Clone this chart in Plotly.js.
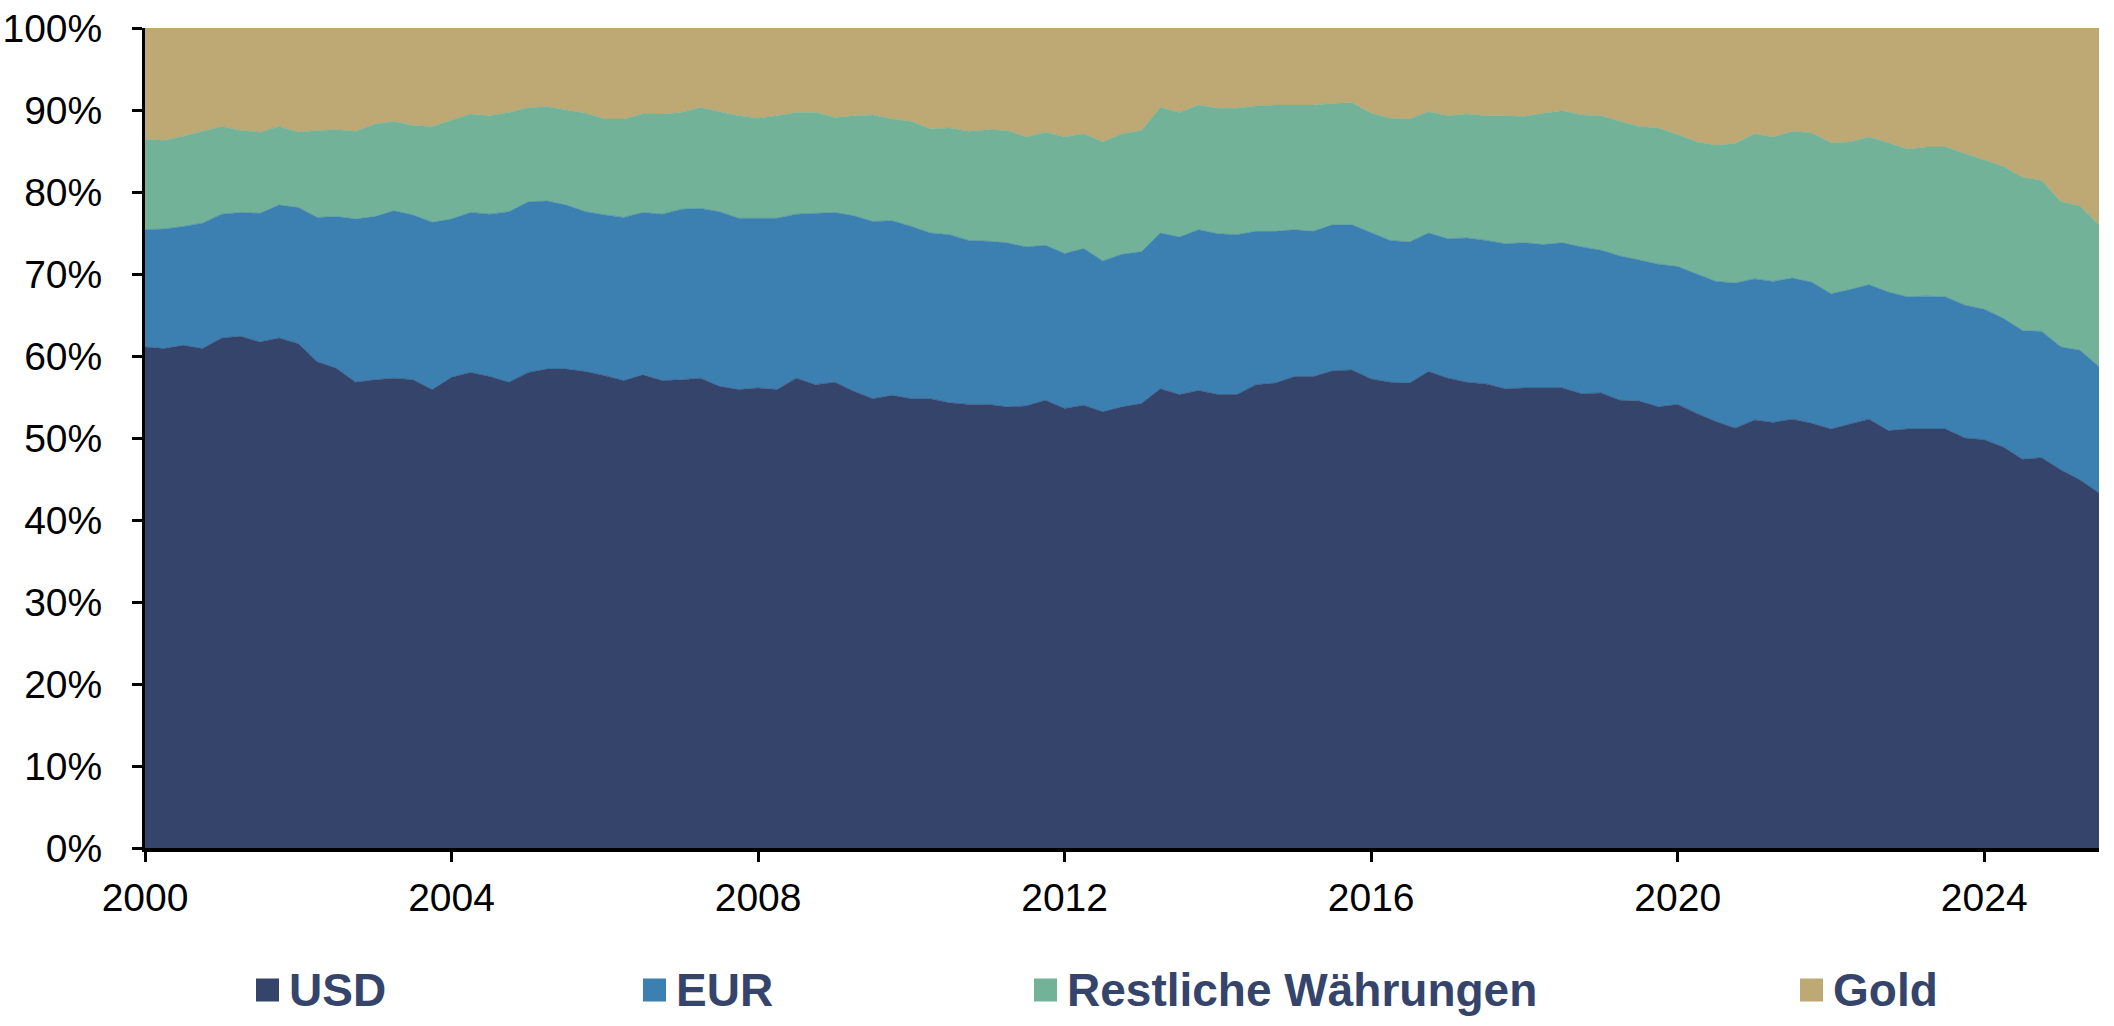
<!DOCTYPE html>
<html>
<head>
<meta charset="utf-8">
<script src="https://cdn.plot.ly/plotly-3.0.1.min.js"></script>
<style>
  html, body { margin: 0; padding: 0; background: #ffffff; }
  #chart { width: 2114px; height: 1026px; }
</style>
</head>
<body>
<div id="chart"></div>
<script>
// Composition of global reserves, quarterly shares in percent (Q1 2000 - Q3 2025)
const startYear = 2000;

const usdShare = [
  61.1, 60.9, 61.3, 60.9, 62.2, 62.4, 61.7, 62.2, 61.5, 59.3,
  58.5, 56.8, 57.1, 57.3, 57.1, 55.9, 57.4, 58.0, 57.5, 56.8,
  58.0, 58.4, 58.4, 58.1, 57.6, 57.0, 57.7, 57.0, 57.1, 57.3,
  56.3, 55.9, 56.1, 55.9, 57.3, 56.5, 56.8, 55.7, 54.8, 55.2,
  54.8, 54.8, 54.3, 54.1, 54.1, 53.8, 53.9, 54.6, 53.6, 54.0,
  53.2, 53.8, 54.2, 56.0, 55.3, 55.8, 55.3, 55.3, 56.5, 56.7,
  57.5, 57.5, 58.2, 58.3, 57.2, 56.8, 56.7, 58.1, 57.3, 56.8,
  56.6, 56.0, 56.1, 56.1, 56.1, 55.4, 55.5, 54.6, 54.5, 53.8,
  54.1, 53.0, 52.0, 51.2, 52.2, 51.9, 52.3, 51.8, 51.1, 51.7,
  52.3, 50.9, 51.1, 51.1, 51.1, 50.0, 49.8, 48.9, 47.4, 47.6,
  46.1, 44.9, 43.3
];

const eurShare = [
  14.3, 14.6, 14.5, 15.3, 15.1, 15.1, 15.7, 16.2, 16.6, 17.6,
  18.5, 19.9, 19.9, 20.4, 20.1, 20.4, 19.3, 19.5, 19.8, 20.8,
  20.8, 20.5, 20.0, 19.5, 19.6, 19.9, 19.8, 20.3, 20.8, 20.7,
  21.3, 20.9, 20.7, 20.9, 20.0, 20.9, 20.7, 21.4, 21.6, 21.3,
  21.0, 20.2, 20.5, 20.0, 19.9, 20.0, 19.4, 18.9, 18.9, 19.1,
  18.4, 18.6, 18.5, 19.0, 19.2, 19.6, 19.6, 19.5, 18.7, 18.5,
  17.9, 17.7, 17.8, 17.7, 17.8, 17.3, 17.2, 16.9, 17.0, 17.6,
  17.5, 17.7, 17.7, 17.5, 17.7, 17.9, 17.4, 17.6, 17.2, 17.4,
  16.8, 17.0, 17.1, 17.7, 17.2, 17.2, 17.2, 17.2, 16.5, 16.4,
  16.4, 16.9, 16.1, 16.2, 16.1, 16.2, 15.9, 15.7, 15.7, 15.4,
  15.0, 15.8, 15.4
];

const otherShare = [
  11.0, 10.8, 11.0, 11.2, 10.7, 10.0, 9.9, 9.6, 9.2, 10.6,
  10.6, 10.7, 11.3, 10.9, 10.9, 11.7, 12.1, 12.0, 12.0, 12.1,
  11.5, 11.5, 11.6, 12.0, 11.7, 12.0, 12.0, 12.2, 11.8, 12.3,
  12.2, 12.5, 12.2, 12.5, 12.4, 12.3, 11.6, 12.2, 13.0, 12.4,
  12.8, 12.7, 13.0, 13.3, 13.6, 13.7, 13.4, 13.8, 14.2, 14.0,
  14.5, 14.7, 14.8, 15.3, 15.2, 15.2, 15.3, 15.4, 15.3, 15.4,
  15.2, 15.4, 14.8, 14.9, 14.6, 14.9, 15.0, 14.8, 15.0, 15.1,
  15.2, 15.6, 15.4, 16.0, 16.1, 16.1, 16.4, 16.4, 16.3, 16.6,
  16.1, 16.1, 16.6, 17.0, 17.7, 17.6, 17.9, 18.2, 18.4, 18.0,
  18.0, 18.2, 18.0, 18.2, 18.3, 18.5, 18.2, 18.5, 18.7, 18.4,
  17.7, 17.6, 17.3
];

const goldShare = [
  13.6, 13.7, 13.2, 12.6, 12.0, 12.5, 12.7, 12.0, 12.7, 12.5,
  12.4, 12.6, 11.7, 11.4, 11.9, 12.0, 11.2, 10.5, 10.7, 10.3,
  9.7, 9.6, 10.0, 10.4, 11.1, 11.1, 10.5, 10.5, 10.3, 9.7,
  10.2, 10.7, 11.0, 10.7, 10.3, 10.3, 10.9, 10.7, 10.6, 11.1,
  11.4, 12.3, 12.2, 12.6, 12.4, 12.5, 13.3, 12.7, 13.3, 12.9,
  13.9, 12.9, 12.5, 9.7, 10.3, 9.4, 9.8, 9.8, 9.5, 9.4,
  9.4, 9.4, 9.2, 9.1, 10.4, 11.0, 11.1, 10.2, 10.7, 10.5,
  10.7, 10.7, 10.8, 10.4, 10.1, 10.6, 10.7, 11.4, 12.0, 12.2,
  13.0, 13.9, 14.3, 14.1, 12.9, 13.3, 12.6, 12.8, 14.0, 13.9,
  13.3, 14.0, 14.8, 14.5, 14.5, 15.3, 16.1, 16.9, 18.2, 18.6,
  21.2, 21.7, 24.0
];

const seriesNames = ['USD', 'EUR', 'Restliche Währungen', 'Gold'];
const seriesColors = ['#34446b', '#3b80b0', '#71b298', '#bea975'];
const yTickValues = [0, 10, 20, 30, 40, 50, 60, 70, 80, 90, 100];
const yTickLabels = yTickValues.map(v => v + '%');

// quarterly observation dates
const dates = usdShare.map((_, i) => {
  const y = startYear + Math.floor(i / 4);
  const m = 1 + 3 * (i % 4);
  return y + '-' + String(m).padStart(2, '0') + '-01';
});

const seriesValues = [usdShare, eurShare, otherShare, goldShare];

const traces = seriesValues.map((vals, k) => ({
  type: 'scatter',
  x: dates,
  y: vals,
  name: seriesNames[k],
  stackgroup: 'reserves',
  mode: 'lines',
  line: { width: 0.6, color: seriesColors[k], shape: 'linear' },
  fillcolor: seriesColors[k],
  showlegend: false,
  hoverinfo: 'x+y+name'
}));

// plot area geometry (pixels)
const W = 2114, H = 1026;
const M = { l: 145, r: 15, t: 28, b: 178 };
const plotW = W - M.l - M.r, plotH = H - M.t - M.b;
const px2x = px => (px - M.l) / plotW;
const px2y = py => (H - M.b - py) / plotH;

// legend row drawn below the axis
const legendMarkerLeft = [256, 643, 1034, 1800];
const legendRowY = 990;
const markerSize = 23;
const legendFont = { family: 'Liberation Sans, Arial, sans-serif', size: 46, color: '#34446b', weight: 'bold' };

const shapes = [];
const annotations = [];
seriesNames.forEach((name, k) => {
  const x0 = legendMarkerLeft[k];
  shapes.push({
    type: 'rect', xref: 'paper', yref: 'paper',
    x0: px2x(x0), x1: px2x(x0 + markerSize),
    y0: px2y(legendRowY - markerSize / 2), y1: px2y(legendRowY + markerSize / 2),
    fillcolor: seriesColors[k], line: { width: 0 }
  });
  annotations.push({
    xref: 'paper', yref: 'paper',
    x: px2x(x0 + markerSize + 8), y: px2y(legendRowY),
    xanchor: 'left', yanchor: 'middle',
    text: '<b>' + name + '</b>',
    showarrow: false,
    font: legendFont
  });
});

const tickFont = { family: 'Liberation Sans, Arial, sans-serif', size: 39, color: '#000000' };

const layout = {
  width: W, height: H,
  margin: M,
  paper_bgcolor: '#ffffff',
  plot_bgcolor: '#ffffff',
  showlegend: false,
  xaxis: {
    type: 'date',
    range: [dates[0], dates[dates.length - 1]],
    tick0: '2000-01-01',
    dtick: 'M48',
    tickformat: '%Y',
    showgrid: false,
    zeroline: false,
    showline: true,
    linecolor: '#000000',
    linewidth: 4,
    ticks: 'outside',
    ticklen: 10,
    tickwidth: 3,
    tickcolor: '#000000',
    ticklabelstandoff: 2,
    tickfont: tickFont
  },
  yaxis: {
    range: [0, 100],
    tickmode: 'array',
    tickvals: yTickValues,
    ticktext: yTickLabels,
    showgrid: false,
    zeroline: false,
    showline: true,
    linecolor: '#000000',
    linewidth: 3,
    ticks: 'outside',
    ticklen: 10,
    tickwidth: 3,
    tickcolor: '#000000',
    ticklabelstandoff: 22,
    tickfont: tickFont
  },
  shapes: shapes,
  annotations: annotations
};

Plotly.newPlot('chart', traces, layout, { displayModeBar: false, responsive: false });
</script>
</body>
</html>
